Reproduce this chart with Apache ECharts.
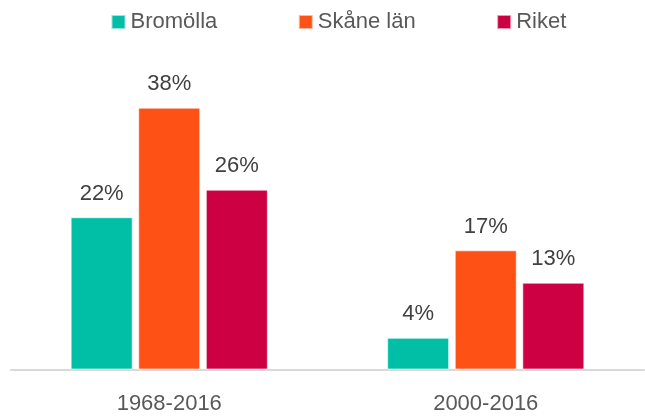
<!DOCTYPE html>
<html>
<head>
<meta charset="utf-8">
<script src="https://cdn.jsdelivr.net/npm/echarts@6/dist/echarts.min.js"></script>
<style>
html,body{margin:0;padding:0;background:#fff;}
#chart{width:645px;height:418px;}
</style>
</head>
<body>
<div id="chart"></div>
<script>
const categories = ["1968-2016", "2000-2016"];
const seriesNames = ["Bromölla", "Skåne län", "Riket"];
const bromolla = [22.1, 4.6];
const skane = [38, 17.3];
const riket = [26.1, 12.6];
const bromollaLabels = ["22%", "4%"];
const skaneLabels = ["38%", "17%"];
const riketLabels = ["26%", "13%"];
const colors = ["#00BFA6", "#FD5116", "#CC0042"];

const FONT = "Liberation Sans, Arial, sans-serif";

function makeSeries(name, values, labels, color) {
  return {
    name: name,
    type: "bar",
    data: values,
    barWidth: 62,
    barGap: "9%",
    itemStyle: { color: color, borderColor: "rgba(255,255,255,0.6)", borderWidth: 1 },
    label: {
      show: true,
      position: "top",
      distance: 12.5,
      fontFamily: FONT,
      fontSize: 22,
      color: "#404040",
      formatter: function (p) { return labels[p.dataIndex]; }
    },
    emphasis: { disabled: true },
    animation: false
  };
}

const chart = echarts.init(document.getElementById("chart"));
chart.setOption({
  animation: false,
  legend: {
    data: seriesNames,
    left: 105.5,
    top: 6,
    itemWidth: 14,
    itemHeight: 14,
    itemGap: 80.5,
    icon: "rect",
    textStyle: { fontFamily: FONT, fontSize: 22, color: "#595959" }
  },
  grid: { left: 11, right: 1, top: 93.9, bottom: 48.5, containLabel: false },
  xAxis: {
    type: "category",
    data: categories,
    axisLine: { lineStyle: { color: "#D9D9D9", width: 2 } },
    axisTick: { show: false },
    axisLabel: { fontFamily: FONT, fontSize: 22, color: "#595959", margin: 23 }
  },
  yAxis: {
    type: "value",
    min: 0,
    max: 40,
    show: false,
    splitLine: { show: false }
  },
  series: [
    makeSeries(seriesNames[0], bromolla, bromollaLabels, colors[0]),
    makeSeries(seriesNames[1], skane, skaneLabels, colors[1]),
    makeSeries(seriesNames[2], riket, riketLabels, colors[2])
  ]
});
</script>
</body>
</html>
